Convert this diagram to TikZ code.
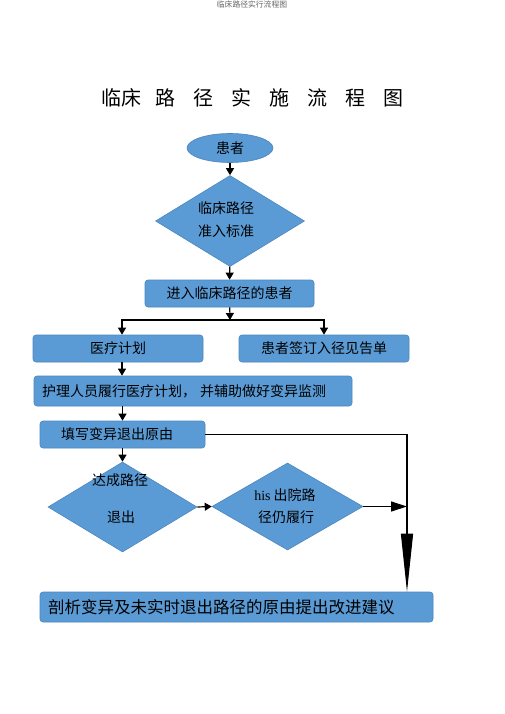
\documentclass[tikz,border=0pt]{standalone}
\usepackage{fontspec}
\setmainfont{Noto Sans CJK SC}
\newfontfamily\latinserif{Liberation Serif}
\usetikzlibrary{shapes.geometric,arrows.meta}
\definecolor{boxblue}{HTML}{5B9BD5}
\definecolor{boxline}{HTML}{4A86C0}
\tikzset{
  x=1pt,y=-1pt,
  flowbox/.style={draw=boxline,line width=0.6pt,fill=boxblue,rounded corners=3pt,inner sep=0pt,font=\fontsize{14}{16}\selectfont},
  flowdia/.style={diamond,draw=boxline,line width=0.6pt,fill=boxblue,inner sep=0pt},
  flowtext/.style={inner sep=0pt,font=\fontsize{14}{16}\selectfont},
  arr/.style={line width=1.2pt,-{Triangle[width=8pt,length=7pt]}},
  bigh/.style={line width=1.2pt,-{Triangle[width=10pt,length=16pt]}},
  bigv/.style={line width=1.2pt,-{Triangle[width=12pt,length=58pt]}},
}
\begin{document}
\begin{tikzpicture}
\path[use as bounding box,fill=white] (0,0) rectangle (505,714);
\node[inner sep=0pt,text=gray!80!black,font=\fontsize{7.8}{9}\selectfont] (hdr) at (252,5) {临床路径实行流程图};
\node[inner sep=0pt,font=\fontsize{20}{22}\selectfont] (title) at (252,98) {临床\hspace{14pt}路\hspace{18pt}径\hspace{18pt}实\hspace{18pt}施\hspace{18pt}流\hspace{18pt}程\hspace{18pt}图};

\node[ellipse,draw=boxline,line width=0.6pt,fill=boxblue,minimum width=86pt,minimum height=29pt,inner sep=0pt,font=\fontsize{14}{16}\selectfont] (e) at (230,148) {患者};
\node[flowdia,minimum width=149pt,minimum height=91pt] (d1) at (230,221) {};
\node[flowtext,align=center] (d1t) at (226,220) {临床路径\\[7pt]准入标准};

\node[flowbox,minimum width=169pt,minimum height=27pt] (b1) at (229.5,293.5) {进入临床路径的患者};
\node[flowbox,minimum width=170pt,minimum height=27pt] (b2) at (118,348.5) {医疗计划};
\node[flowbox,minimum width=170pt,minimum height=27pt] (b3) at (324,348.5) {患者签订入径见告单};
\node[flowbox,minimum width=318pt,minimum height=30pt] (b4) at (193,391) {};
\node[flowtext,anchor=west] (b4t) at (42,391) {护理人员履行医疗计划，\hspace{4pt}并辅助做好变异监测};
\node[flowbox,minimum width=165pt,minimum height=27pt] (b5) at (122.5,434.5) {};
\node[flowtext] (b5t) at (117,434.5) {填写变异退出原由};

\node[flowdia,minimum width=149pt,minimum height=90pt] (d2) at (122.5,507) {};
\node[flowtext] (d2a) at (120,480) {达成路径};
\node[flowtext] (d2b) at (121,517) {退出};
\node[flowdia,minimum width=151pt,minimum height=87pt] (d3) at (287.5,506.5) {};
\node[flowtext] (d3a) at (285,495) {{\latinserif his} 出院路};
\node[flowtext] (d3b) at (286,517) {径仍履行};

\node[flowbox,minimum width=393pt,minimum height=30pt] (b6) at (236.5,607) {};
\node[flowtext,anchor=west,font=\fontsize{16.5}{18}\selectfont] (b6t) at (48,607) {剖析变异及未实时退出路径的原由提出改进建议};

\coordinate (j) at (230,320);
\coordinate (cr) at (407,434.5);

\draw[arr] (e) -- (d1);
\draw[arr] (d1) -- (b1);
\draw[arr] (b1) -- (j);
\draw[arr] (j) -| ([xshift=4pt]b2.north);
\draw[arr] (j) -| (b3.north);
\draw[arr] ([xshift=4pt]b2.south) -- ([xshift=4pt]b2.south |- b4.north);
\draw[arr] (b4.south -| b5.north) -- (b5.north);
\draw[arr] (b5) -- (d2);
\draw[arr] (d2.east) -- (d3.west);
\draw[bigh] (d3.east) -- (d3.east -| cr);
\draw[bigv] (b5.east) -- (cr) -- (cr |- b6.north);
\end{tikzpicture}
\end{document}
